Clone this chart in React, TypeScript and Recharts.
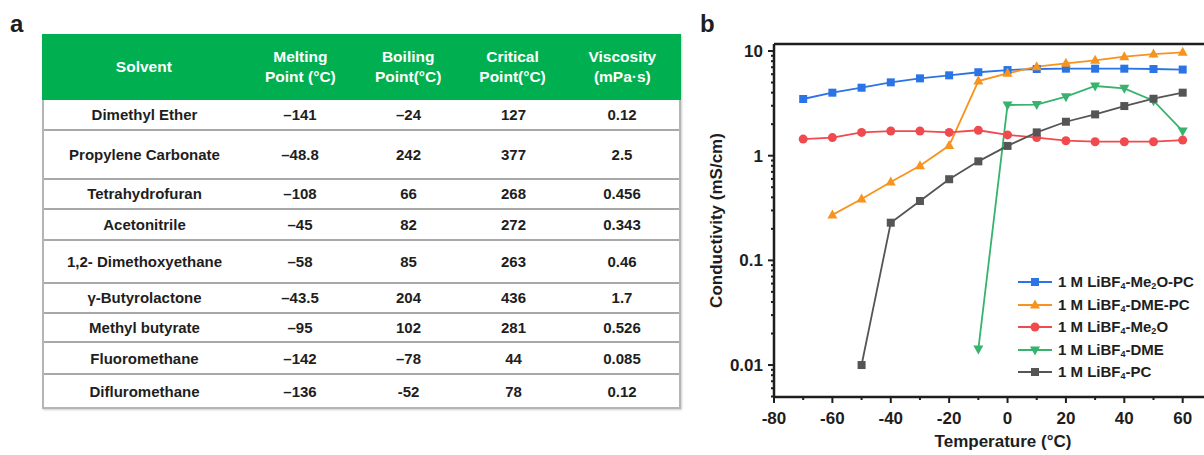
import React from "react"
import { LineChart, Line, XAxis, YAxis, Legend, ReferenceLine } from "recharts"

// table (panel a)
const solvents = ["Dimethyl Ether", "Propylene Carbonate", "Tetrahydrofuran", "Acetonitrile", "1,2- Dimethoxyethane", "γ-Butyrolactone", "Methyl butyrate", "Fluoromethane", "Difluromethane"]
const meltingPts = ["–141", "–48.8", "–108", "–45", "–58", "–43.5", "–95", "–142", "–136"]
const boilingPts = ["–24", "242", "66", "82", "85", "204", "102", "–78", "-52"]
const criticalPts = ["127", "377", "268", "272", "263", "436", "281", "44", "78"]
const viscosities = ["0.12", "2.5", "0.456", "0.343", "0.46", "1.7", "0.526", "0.085", "0.12"]
const headers = [["Solvent"], ["Melting", "Point (°C)"], ["Boiling", "Point(°C)"], ["Critical", "Point(°C)"], ["Viscosity", "(mPa·s)"]]

// chart (panel b)
const temps = [-70, -60, -50, -40, -30, -20, -10, 0, 10, 20, 30, 40, 50, 60]
const me2oPc = [3.48, 4.0, 4.46, 5.02, 5.48, 5.86, 6.27, 6.58, 6.73, 6.78, 6.78, 6.78, 6.73, 6.65]
const dmePc = [null, 0.272, 0.386, 0.561, 0.8, 1.25, 5.17, 6.12, 7.08, 7.63, 8.15, 8.83, 9.36, 9.72]
const me2o = [1.44, 1.49, 1.67, 1.72, 1.72, 1.67, 1.75, 1.58, 1.49, 1.39, 1.36, 1.36, 1.36, 1.41]
const dme = [null, null, null, null, null, null, 0.0142, 3.05, 3.08, 3.66, 4.63, 4.4, 3.35, 1.72]
const pc = [null, null, 0.01, 0.229, 0.369, 0.596, 0.883, 1.24, 1.67, 2.11, 2.48, 2.98, 3.5, 4.0]

const xMajor = [-80, -60, -40, -20, 0, 20, 40, 60]
const xMinor = [-70, -50, -30, -10, 10, 30, 50]
const yMajor = [0.01, 0.1, 1, 10]
const yMinor = [0.005, 0.006, 0.007, 0.008, 0.009, 0.02, 0.03, 0.04, 0.05, 0.06, 0.07, 0.08, 0.09,
  0.2, 0.3, 0.4, 0.5, 0.6, 0.7, 0.8, 0.9, 2, 3, 4, 5, 6, 7, 8, 9]

const series = [
  { key: "me2oPc", name: "1 M LiBF4-Me2O-PC", color: "#2b74e6", shape: "square" },
  { key: "dmePc", name: "1 M LiBF4-DME-PC", color: "#f7931e", shape: "up" },
  { key: "me2o", name: "1 M LiBF4-Me2O", color: "#f04a4e", shape: "circle" },
  { key: "dme", name: "1 M LiBF4-DME", color: "#36b36c", shape: "down" },
  { key: "pc", name: "1 M LiBF4-PC", color: "#555555", shape: "square" },
]

const rows = temps.map((t, i) => ({
  t, me2oPc: me2oPc[i], dmePc: dmePc[i], me2o: me2o[i], dme: dme[i], pc: pc[i],
}))

const font = "'Liberation Sans', Arial, sans-serif"
const ink = "#1e1e1e"
const rowHeights = [31, 48.6, 30.7, 31, 43, 29.3, 29.4, 32.3, 31.7]
const colWidths = [203, 110, 107, 103, 116]

function marker(shape: string, cx: number, cy: number, color: string) {
  if (shape === "square") return <rect x={cx - 4} y={cy - 4} width={8} height={8} fill={color} />
  if (shape === "circle") return <circle cx={cx} cy={cy} r={4.5} fill={color} />
  if (shape === "up") return <polygon points={`${cx},${cy - 5.5} ${cx + 5},${cy + 3.5} ${cx - 5},${cy + 3.5}`} fill={color} />
  return <polygon points={`${cx},${cy + 5.5} ${cx + 5},${cy - 3.5} ${cx - 5},${cy - 3.5}`} fill={color} />
}

const makeDot = (shape: string, color: string) => (p: any) => {
  if (p.cx == null || p.cy == null || p.value == null) return <g key={p.index} />
  return <g key={p.index}>{marker(shape, p.cx, p.cy, color)}</g>
}

function withSubs(name: string) {
  return name.split(/(?<=[A-Za-z])(\d)/).map((s, i) =>
    i % 2 === 1 ? <sub key={i} style={{ fontSize: "0.6em", verticalAlign: "-0.25em" }}>{s}</sub> : <span key={i}>{s}</span>
  )
}

function XTick({ x, y, payload }: any) {
  const major = xMajor.includes(payload.value)
  return (
    <g>
      <line x1={x} x2={x} y1={y} y2={y + (major ? 6 : 3)} stroke={ink} strokeWidth={2} />
      {major && (
        <text x={x} y={y + 27} textAnchor="middle" fontSize={17} fontWeight="bold" fontFamily={font} fill={ink}>
          {payload.value}
        </text>
      )}
    </g>
  )
}

function YTick({ x, y, payload }: any) {
  const major = yMajor.includes(payload.value)
  return (
    <g>
      <line x1={x - (major ? 6 : 3)} x2={x} y1={y} y2={y} stroke={ink} strokeWidth={2} />
      {major && (
        <text x={x - 11} y={y} dy="0.35em" textAnchor="end" fontSize={17} fontWeight="bold" fontFamily={font} fill={ink}>
          {String(payload.value)}
        </text>
      )}
    </g>
  )
}

function LegendBox() {
  return (
    <div style={{ fontFamily: font, fontWeight: "bold", fontSize: 15, color: ink }}>
      {series.map(s => (
        <div key={s.key} style={{ display: "flex", alignItems: "center", height: 22.5 }}>
          <svg width={36} height={14} style={{ marginRight: 4 }}>
            <line x1={0} x2={34} y1={7} y2={7} stroke={s.color} strokeWidth={2} />
            {marker(s.shape, 17, 7, s.color)}
          </svg>
          <span style={{ whiteSpace: "nowrap" }}>{withSubs(s.name)}</span>
        </div>
      ))}
    </div>
  )
}

function SolventTable() {
  const cols = (i: number) => [solvents[i], meltingPts[i], boilingPts[i], criticalPts[i], viscosities[i]]
  return (
    <div style={{ position: "absolute", left: 42, top: 34, width: 639, fontFamily: font, fontWeight: "bold",
      border: "2px solid #b5b5b5", borderTop: "none", boxSizing: "border-box", boxShadow: "1px 1px 2px #ccc" }}>
      <div style={{ display: "flex", height: 66, background: "#00b050", color: "#fff", fontSize: 15.5, lineHeight: "20px", margin: "0 -2px" }}>
        {headers.map((h, i) => (
          <div key={i} style={{ width: colWidths[i] + (i === 0 || i === 4 ? 2 : 0), display: "flex", flexDirection: "column", justifyContent: "center", alignItems: "center" }}>
            {h.map(l => <div key={l}>{l}</div>)}
          </div>
        ))}
      </div>
      {solvents.map((_, r) => (
        <div key={r} style={{ display: "flex", height: rowHeights[r], boxSizing: "border-box",
          borderBottom: r < solvents.length - 1 ? "2px solid #a8a8a8" : "none", color: ink, fontSize: 15 }}>
          {cols(r).map((v, i) => (
            <div key={i} style={{ width: colWidths[i] - (i === 0 ? 2 : i === 4 ? 2 : 0), display: "flex", alignItems: "center", justifyContent: "center" }}>
              {v}
            </div>
          ))}
        </div>
      ))}
    </div>
  )
}

export default function App() {
  return (
    <div style={{ position: "absolute", left: 0, top: 0, width: 1204, height: 455, background: "#fff", overflow: "hidden", fontFamily: font }}>
      <div style={{ position: "absolute", left: 10, top: 12, fontSize: 24, fontWeight: "bold", lineHeight: "24px", color: ink }}>a</div>
      <SolventTable />
      <div style={{ position: "absolute", left: 700, top: 12, fontSize: 24, fontWeight: "bold", lineHeight: "24px", color: ink }}>b</div>
      <div style={{ position: "absolute", left: 700, top: 0 }}>
        <LineChart width={504} height={455} data={rows} margin={{ top: 44, right: 0, bottom: 0, left: 0 }}>
          <XAxis dataKey="t" type="number" domain={[-80, 67.3]} allowDataOverflow ticks={[...xMajor, ...xMinor]} interval={0}
            tickSize={0} tickMargin={0} tickLine={false} height={58} tick={<XTick />}
            axisLine={{ stroke: ink, strokeWidth: 2.5 }}
            label={{ value: "Temperature (°C)", position: "insideBottom", offset: 8, dx: 14,
              style: { fontSize: 17, fontWeight: "bold", fontFamily: font, fill: ink } }} />
          <YAxis scale="log" domain={[0.00495, 11.67]} allowDataOverflow ticks={[...yMajor, ...yMinor]} interval={0}
            width={74} tickSize={0} tickMargin={0} tickLine={false} tick={<YTick />}
            axisLine={{ stroke: ink, strokeWidth: 2.5 }}
            label={{ value: "Conductivity (mS/cm)", angle: -90, position: "insideLeft", offset: 16,
              style: { fontSize: 17, fontWeight: "bold", fontFamily: font, fill: ink, textAnchor: "middle" } }} />
          <ReferenceLine y={11.67} stroke={ink} strokeWidth={2.5} />
          {series.map(s => (
            <Line key={s.key} dataKey={s.key} name={s.name} stroke={s.color} strokeWidth={1.8}
              dot={makeDot(s.shape, s.color)} activeDot={false} isAnimationActive={false} />
          ))}
          <Legend layout="vertical" align="center" verticalAlign="middle" content={() => <LegendBox />}
            wrapperStyle={{ left: 318, top: 271, width: 186 }} />
        </LineChart>
      </div>
    </div>
  )
}
